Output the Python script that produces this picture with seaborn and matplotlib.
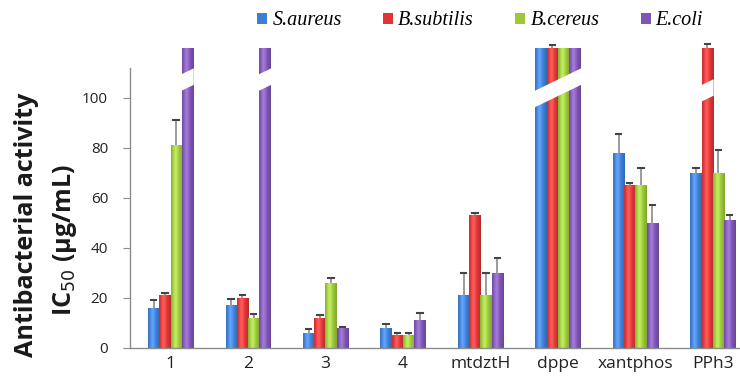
import numpy as np
import pandas as pd
import matplotlib
matplotlib.use("Agg")
import matplotlib.pyplot as plt
import matplotlib.colors as mcolors
import seaborn as sns
from matplotlib.patches import Polygon, Patch
from matplotlib.container import BarContainer

categories = ["1", "2", "3", "4", "mtdztH", "dppe", "xantphos", "PPh3"]
series = ["S.aureus", "B.subtilis", "B.cereus", "E.coli"]
# 120 marks a value beyond the axis (drawn as a broken bar)
s_aureus = [16, 17, 6, 8, 21, 120, 78, 70]
b_subtilis = [21, 20, 12, 5, 53, 120, 65, 120]
b_cereus = [81, 12, 26, 5, 21, 120, 65, 70]
e_coli = [120, 120, 8, 11, 30, 120, 50, 51]
err_s_aureus = [3, 2.5, 1.5, 1.5, 9, 0, 7.5, 2]
err_b_subtilis = [1, 1, 1, 1, 1, 1, 1, 1.5]
err_b_cereus = [10, 1.5, 2, 1, 9, 0, 7, 9]
err_e_coli = [0, 0, 0.5, 3, 6, 0, 7, 2]
broken_value = 120

values = [s_aureus, b_subtilis, b_cereus, e_coli]
errors = [err_s_aureus, err_b_subtilis, err_b_cereus, err_e_coli]
colors = ["#3d7fd6", "#de3535", "#9cc83a", "#7f55b5"]

rows = []
for s, vals in zip(series, values):
    for c, v in zip(categories, vals):
        rows.append({"cat": c, "series": s, "val": v})
df = pd.DataFrame(rows)

fig = plt.figure(figsize=(7.40, 3.81), dpi=100)
ax = fig.add_axes([0.176, 0.087, 0.824, 0.735])

sns.barplot(data=df, x="cat", y="val", hue="series", order=categories,
            hue_order=series, palette=colors, width=0.58, errorbar=None,
            saturation=1, ax=ax, legend=False, edgecolor="none")

bar_containers = [c for c in ax.containers if isinstance(c, BarContainer)]

# cylinder-like shading profile across each bar
tt = np.linspace(0, 1, 64)
g = np.exp(-((tt - 0.38) / 0.22) ** 2)
edge = np.clip(1 - ((tt - 0.45) / 0.55) ** 2, 0, 1)

broken_groups = {}
for si, cont in enumerate(bar_containers):
    base = np.array(mcolors.to_rgb(colors[si]))
    shade = base[None, :] * (0.82 + 0.18 * edge[:, None]) + 0.14 * g[:, None]
    shade = np.clip(shade, 0, 1)[None, :, :]
    for ci, bar in enumerate(cont.patches):
        bar.set_clip_on(False)
        x0b = bar.get_x()
        wb = bar.get_width()
        h = bar.get_height()
        im = ax.imshow(shade, extent=[x0b, x0b + wb, 0, h], aspect="auto",
                       interpolation="bilinear", zorder=bar.get_zorder() + 0.1,
                       origin="lower")
        im.set_clip_box(None)
        im.set_clip_path(bar)
        xc = x0b + wb / 2
        e = errors[si][ci]
        if e > 0:
            ax.errorbar(xc, h, yerr=[[0], [e]], fmt="none", ecolor="#8a8a8a",
                        elinewidth=1.2, capsize=0, clip_on=False, zorder=3)
            ax.plot([xc - 0.035, xc + 0.035], [h + e, h + e], color="#444444",
                    lw=1.5, clip_on=False, zorder=4)
        if h >= broken_value:
            broken_groups.setdefault(ci, []).append(bar)

ax.set_ylim(0, 112)
ax.set_xlim(-0.52, 7.35)

slope = 15.0
gap = 3.3
for ci, bars in broken_groups.items():
    x0 = min(b.get_x() for b in bars) - 0.01
    x1 = max(b.get_x() + b.get_width() for b in bars) + 0.01
    xg = ci
    yc0 = 104 + slope * (x0 - xg)
    yc1 = 104 + slope * (x1 - xg)
    poly = Polygon([[x0, yc0 - gap], [x1, yc1 - gap], [x1, yc1 + gap], [x0, yc0 + gap]],
                   closed=True, facecolor="white", edgecolor="none", zorder=5,
                   clip_on=False)
    ax.add_patch(poly)

sns.despine(ax=ax)
for sp in ["left", "bottom"]:
    ax.spines[sp].set_color("#8c8c8c")
    ax.spines[sp].set_linewidth(1.0)
ax.set_yticks([0, 20, 40, 60, 80, 100])
ax.tick_params(axis="y", length=5, color="#8c8c8c", labelsize=11, labelcolor="#222222", pad=11)
ax.tick_params(axis="x", length=0, labelsize=12.5, labelcolor="#222222", pad=6)
for lab in ax.get_xticklabels() + ax.get_yticklabels():
    lab.set_fontfamily("Open Sans")
ax.set_xlabel("")
ax.set_ylabel("")

W, H = 740, 381
renderer = fig.canvas.get_renderer()
t1 = fig.text(27 / W, 1 - 225 / H, "Antibacterial activity", rotation=90, ha="center",
              va="center", fontsize=15, fontweight="bold", family="Open Sans", color="#1a1a1a")
ext = t1.get_window_extent(renderer)
fs = 15 * 265 / ext.height
t1.set_fontsize(fs)
t2 = fig.text(65 / W, 1 - 240 / H, "IC$_{50}$ (μg/mL)", rotation=90, ha="center",
              va="center", fontsize=fs, fontweight="bold", family="Open Sans", color="#1a1a1a")

handles = [Patch(facecolor=c, edgecolor="none") for c in colors]
leg = fig.legend(handles, series, loc="center", bbox_to_anchor=(0.649, 0.945), ncol=4,
                 frameon=False, handlelength=0.5, handleheight=0.45, handletextpad=0.25,
                 columnspacing=2.05, borderpad=0, borderaxespad=0,
                 prop={"family": "Liberation Serif", "style": "italic", "size": 14.5})

fig.savefig("out.png", dpi=100)
